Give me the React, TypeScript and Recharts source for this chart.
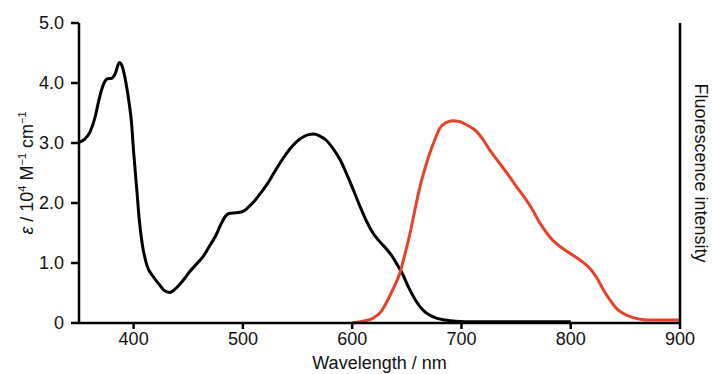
import { LineChart, Line, XAxis, YAxis } from 'recharts';

// absorption spectrum (black, left axis, ε / 10^4 M^-1 cm^-1)
const absWavelength = [
  350, 355, 360, 365, 368, 372, 376, 380, 383, 387, 390, 393, 396, 398, 400, 403, 405, 408, 412, 418,
  424, 428, 433, 437, 442, 447, 452, 458, 464, 470, 475, 480, 484, 488, 495, 500, 505, 510, 516, 522,
  530, 537, 543, 549, 555, 560, 565, 570, 576, 582, 589, 595, 601, 607, 613, 619, 625, 632, 637, 641,
  646, 652, 658, 664, 670, 677, 685, 695, 710, 730, 750, 770, 790, 800,
];
const absValues = [
  3.01, 3.06, 3.18, 3.45, 3.7, 3.96, 4.07, 4.08, 4.15, 4.34, 4.25, 4.0, 3.65, 3.35, 2.85, 2.2, 1.75, 1.3, 0.97, 0.77,
  0.63, 0.54, 0.51, 0.55, 0.64, 0.75, 0.87, 0.99, 1.12, 1.3, 1.45, 1.65, 1.78, 1.83, 1.84, 1.86, 1.93, 2.02, 2.16, 2.31,
  2.55, 2.75, 2.9, 3.02, 3.1, 3.14, 3.15, 3.12, 3.05, 2.92, 2.72, 2.48, 2.22, 1.95, 1.7, 1.5, 1.36, 1.22, 1.1, 0.98,
  0.82, 0.58, 0.38, 0.23, 0.14, 0.08, 0.05, 0.03, 0.02, 0.02, 0.02, 0.02, 0.02, 0.02,
];

// fluorescence spectrum (red, right axis, arbitrary units)
const flWavelength = [
  600, 610, 619, 626, 631, 637, 644, 649, 653, 657, 662, 667, 671, 676, 680, 686, 692, 698, 705, 714,
  720, 726, 735, 744, 750, 757, 764, 772, 778, 784, 790, 796, 802, 810, 818, 824, 830, 836, 842, 849,
  857, 865, 873, 885, 900,
];
const flValues = [
  0.0, 0.03, 0.08, 0.18, 0.33, 0.55, 0.85, 1.2, 1.5, 1.85, 2.27, 2.6, 2.83, 3.07, 3.24, 3.34, 3.37, 3.36, 3.3, 3.19,
  3.05, 2.88, 2.66, 2.44, 2.28, 2.11, 1.92, 1.66, 1.5, 1.37, 1.28, 1.2, 1.13, 1.03, 0.9, 0.75, 0.55, 0.38, 0.24, 0.15,
  0.09, 0.06, 0.05, 0.05, 0.05,
];

const xTicks = [400, 500, 600, 700, 800, 900];
const yTicks = [0, 1, 2, 3, 4, 5];

const absData = absWavelength.map((wl, i) => ({ wl, eps: absValues[i] }));
const flData = flWavelength.map((wl, i) => ({ wl, fl: flValues[i] }));

const FONT = '"Liberation Sans", Arial, Helvetica, sans-serif';
const RED = '#e6412b';

function leftLabel(props: any) {
  const { x, y, height } = props.viewBox;
  const cx = x + 33;
  const cy = y + height / 2;
  return (
    <text
      x={cx}
      y={cy}
      transform={`rotate(-90, ${cx}, ${cy})`}
      textAnchor="middle"
      fontFamily={FONT}
      fontSize={18}
      fill="#111"
    >
      <tspan fontStyle="italic">ε</tspan>
      <tspan> / 10</tspan>
      <tspan fontSize={11} dy={-7}>4</tspan>
      <tspan dy={7}> M</tspan>
      <tspan fontSize={11} dy={-7}>−1</tspan>
      <tspan dy={7}> cm</tspan>
      <tspan fontSize={11} dy={-7}>−1</tspan>
    </text>
  );
}

function rightLabel(props: any) {
  const { x, y, height } = props.viewBox;
  const cx = x + 15;
  const cy = y + height / 2;
  return (
    <text
      x={cx}
      y={cy}
      transform={`rotate(90, ${cx}, ${cy})`}
      textAnchor="middle"
      fontFamily={FONT}
      fontSize={18}
      fill="#111"
    >
      Fluorescence intensity
    </text>
  );
}

function bottomLabel(props: any) {
  const { x, y, width } = props.viewBox;
  return (
    <text x={x + width / 2} y={y + 46} textAnchor="middle" fontFamily={FONT} fontSize={18} fill="#111">
      Wavelength / nm
    </text>
  );
}

export default function App() {
  return (
    <div style={{ position: 'fixed', left: 0, top: 0, width: 712, height: 374, overflow: 'hidden', background: '#fff' }}>
      <LineChart width={712} height={374} margin={{ top: 23, right: 0, bottom: 0, left: 0 }}>
        <XAxis
          dataKey="wl"
          type="number"
          domain={[350, 900]}
          ticks={xTicks}
          allowDataOverflow
          height={51}
          tickSize={6}
          tickMargin={3}
          tick={{ fill: '#111', fontSize: 18, fontFamily: FONT }}
          tickLine={{ stroke: '#000', strokeWidth: 2.5 }}
          axisLine={{ stroke: '#000', strokeWidth: 2.5 }}
          label={{ content: bottomLabel }}
        />
        <YAxis
          yAxisId="left"
          width={79}
          domain={[0, 5]}
          ticks={yTicks}
          tickFormatter={(v: number) => (v === 0 ? '0' : v.toFixed(1))}
          tickSize={8}
          tickMargin={7}
          tick={{ fill: '#111', fontSize: 18, fontFamily: FONT }}
          tickLine={{ stroke: '#000', strokeWidth: 2.5 }}
          axisLine={{ stroke: '#000', strokeWidth: 2.5 }}
          label={{ content: leftLabel }}
        />
        <YAxis
          yAxisId="right"
          orientation="right"
          width={32}
          domain={[0, 5]}
          tick={false}
          tickLine={false}
          axisLine={{ stroke: '#000', strokeWidth: 2.5 }}
          label={{ content: rightLabel }}
        />
        <Line
          yAxisId="left"
          data={absData}
          dataKey="eps"
          type="monotone"
          stroke="#000"
          strokeWidth={3}
          dot={false}
          isAnimationActive={false}
        />
        <Line
          yAxisId="right"
          data={flData}
          dataKey="fl"
          type="monotone"
          stroke={RED}
          strokeWidth={3}
          dot={false}
          isAnimationActive={false}
        />
      </LineChart>
    </div>
  );
}
